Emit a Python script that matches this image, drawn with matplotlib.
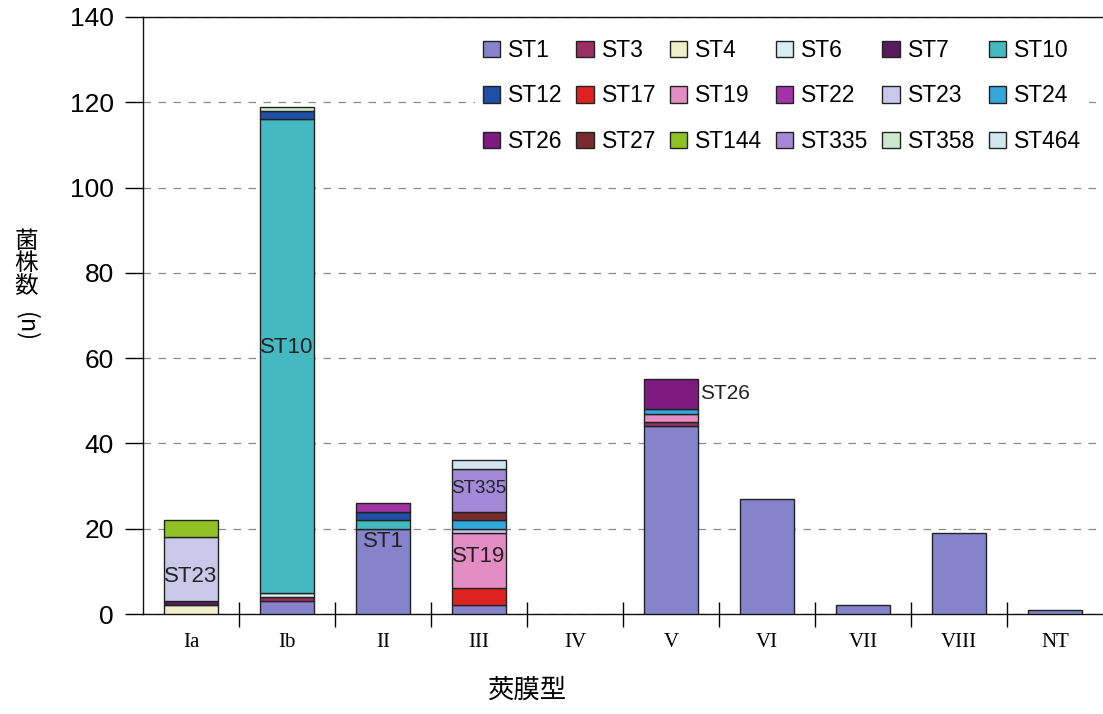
import matplotlib
matplotlib.use("Agg")
import matplotlib.pyplot as plt
import numpy as np

# 莢膜型（横軸カテゴリ）
serotypes = ["Ia", "Ib", "II", "III", "IV", "V", "VI", "VII", "VIII", "NT"]

# ST ごとの菌株数（下から積み上げる順）
st_names = ["ST1", "ST3", "ST4", "ST6", "ST7", "ST10",
            "ST12", "ST17", "ST19", "ST22", "ST23", "ST24",
            "ST26", "ST27", "ST144", "ST335", "ST358", "ST464"]

st1 = [0, 3, 20, 2, 0, 44, 27, 2, 19, 1]
st3 = [0, 1, 0, 0, 0, 1, 0, 0, 0, 0]
st4 = [2, 0, 0, 0, 0, 0, 0, 0, 0, 0]
st6 = [0, 1, 0, 0, 0, 0, 0, 0, 0, 0]
st7 = [1, 0, 0, 0, 0, 0, 0, 0, 0, 0]
st10 = [0, 111, 2, 0, 0, 0, 0, 0, 0, 0]
st12 = [0, 2, 2, 0, 0, 0, 0, 0, 0, 0]
st17 = [0, 0, 0, 4, 0, 0, 0, 0, 0, 0]
st19 = [0, 0, 0, 13, 0, 2, 0, 0, 0, 0]
st22 = [0, 0, 2, 0, 0, 0, 0, 0, 0, 0]
st23 = [15, 0, 0, 1, 0, 0, 0, 0, 0, 0]
st24 = [0, 0, 0, 2, 0, 1, 0, 0, 0, 0]
st26 = [0, 0, 0, 0, 0, 7, 0, 0, 0, 0]
st27 = [0, 0, 0, 2, 0, 0, 0, 0, 0, 0]
st144 = [4, 0, 0, 0, 0, 0, 0, 0, 0, 0]
st335 = [0, 0, 0, 10, 0, 0, 0, 0, 0, 0]
st358 = [0, 1, 0, 0, 0, 0, 0, 0, 0, 0]
st464 = [0, 0, 0, 2, 0, 0, 0, 0, 0, 0]

st_counts = [st1, st3, st4, st6, st7, st10, st12, st17, st19, st22,
             st23, st24, st26, st27, st144, st335, st358, st464]

st_colors = ["#8682cc", "#9a2f62", "#eeeec8", "#d6eeee", "#5a1a5e", "#45b9c2",
             "#1f4fa6", "#de2222", "#e48cc4", "#a233a6", "#cac8ea", "#33a7d9",
             "#7e1a80", "#7a2b2e", "#8fc024", "#a28ad8", "#cce8cc", "#d2e6ee"]

# バー内のラベル (カテゴリ位置, y 値, 文字, 文字サイズ, 配置)
bar_labels = [
    (0, 8.9, "ST23", 16, "center"),
    (1, 62.4, "ST10", 16, "center"),
    (2, 17.0, "ST1", 16, "center"),
    (3, 13.4, "ST19", 16, "center"),
    (3, 29.5, "ST335", 13.5, "center"),
    (5.3, 51.8, "ST26", 15, "left"),
]

fig = plt.figure(figsize=(11.03, 7.14), dpi=100)
ax = fig.add_axes([143 / 1103, 100 / 714, 960 / 1103, 597 / 714])

x = np.arange(len(serotypes))
bottom = np.zeros(len(serotypes))
handles = []
for name, vals, col in zip(st_names, st_counts, st_colors):
    vals = np.array(vals, dtype=float)
    nz = vals > 0  # 0 件のセグメントは描かない
    h = ax.bar(x[nz], vals[nz], width=0.57, bottom=bottom[nz], color=col,
               edgecolor="#222222", linewidth=1.0, label=name, zorder=3)
    handles.append(h)
    bottom += vals

for xi, yi, txt, fs, ha in bar_labels:
    ax.text(xi, yi, txt, ha=ha, va="center", fontsize=fs,
            family="Liberation Sans", color="#222222", zorder=5)

ax.set_xlim(-0.5, len(serotypes) - 0.5)
ax.set_ylim(0, 140)
ax.set_yticks(np.arange(0, 141, 20))
ax.yaxis.grid(True, linestyle=(0, (6, 6)), color="#8a8a8a", linewidth=0.9, zorder=0)
ax.set_axisbelow(True)

ax.spines["right"].set_visible(False)
for s in ["left", "top", "bottom"]:
    ax.spines[s].set_color("#111111")
    ax.spines[s].set_linewidth(1.0)

ax.set_xticks(x)
ax.set_xticklabels(serotypes, family="Liberation Serif", fontsize=15)
ax.tick_params(axis="x", length=0, pad=14)
ax.set_xticks(np.arange(0.5, len(serotypes) - 0.5, 1), minor=True)
ax.tick_params(axis="x", which="minor", direction="inout", length=18, width=1.0)
ax.tick_params(axis="y", direction="out", length=13, width=1.0, labelsize=19, pad=8)
for lab in ax.get_yticklabels():
    lab.set_family("Liberation Sans")

# 凡例は行方向に並べる（白背景で目盛線を隠す）
order = [r * 6 + c for c in range(6) for r in range(3)]
leg = ax.legend([handles[i] for i in order], [st_names[i] for i in order],
                ncol=6, loc="upper left", bbox_to_anchor=(475 / 1103, 1 - 31 / 714),
                bbox_transform=fig.transFigure, frameon=True, fancybox=False,
                facecolor="white", edgecolor="none", framealpha=1.0,
                prop={"family": "Liberation Sans", "size": 16.5},
                handlelength=0.75, handleheight=0.75, handletextpad=0.35,
                columnspacing=0.6, labelspacing=0.98, borderpad=0.35, borderaxespad=0)
leg.set_zorder(6)

fig.text(528 / 1103, 1 - 690 / 714, "莢膜型", ha="center", va="center",
         fontsize=19, family=["Noto Sans CJK JP", "DejaVu Sans"])
fig.text(26 / 1103, 1 - 264 / 714, "菌\n株\n数", ha="center", va="center",
         fontsize=17, linespacing=1.0, family=["Noto Sans CJK JP", "DejaVu Sans"])
fig.text(26 / 1103, 1 - 327 / 714, "(n)", ha="center", va="center", rotation=-90,
         fontsize=17, family=["Noto Sans CJK JP", "DejaVu Sans"])

fig.savefig("out.png", dpi=100)
